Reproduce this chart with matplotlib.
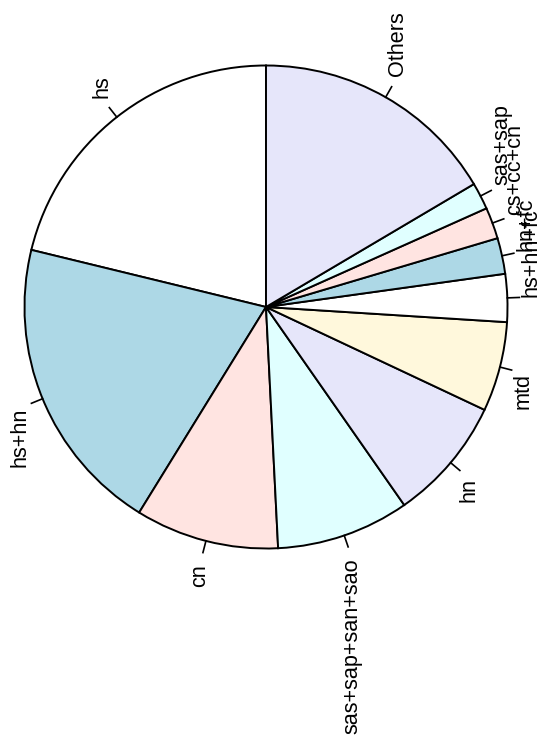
import numpy as np
import matplotlib
matplotlib.use("Agg")
import matplotlib.pyplot as plt

# slice labels and shares (percent), in drawing order
categorias = ["hs", "hs+hn", "cn", "sas+sap+san+sao", "hn", "mtd",
              "hs+hn+fc", "hn+fc", "cs+cc+cn", "sas+sap", "Others"]
valores = [21.2, 20.0, 9.6, 8.9, 8.3, 6.0, 3.2, 2.4, 2.1, 1.8, 16.5]

# cores padrao do pie() do R
cores_base = ["white", "lightblue", "mistyrose", "lightcyan", "lavender", "cornsilk"]
cores = [cores_base[i % len(cores_base)] for i in range(len(valores))]

W, H = 542, 745
fig = plt.figure(figsize=(W / 100, H / 100), dpi=100)
ax = fig.add_axes([0, 0, 1, 1])

centro = (266, H - 307)
raio = 241.5

fatias, _ = ax.pie(valores, colors=cores, startangle=90, counterclock=True,
                   center=centro, radius=raio, frame=True,
                   wedgeprops=dict(edgecolor="black", linewidth=1.4))
ax.set_xlim(0, W)
ax.set_ylim(0, H)
ax.set_aspect("equal")
ax.axis("off")

# rotulos girados 90 graus, com tracinho na borda (estilo R)
for fatia, nome in zip(fatias, categorias):
    meio = np.deg2rad((fatia.theta1 + fatia.theta2) / 2)
    c, s = np.cos(meio), np.sin(meio)
    ax.plot([centro[0] + raio * c, centro[0] + 1.05 * raio * c],
            [centro[1] + raio * s, centro[1] + 1.05 * raio * s],
            color="black", linewidth=1.2)
    ax.text(centro[0] + 1.1 * raio * c, centro[1] + 1.1 * raio * s, nome,
            rotation=90, rotation_mode="anchor",
            ha="left" if s > 0 else "right", va="center",
            fontsize=15.6, family="Liberation Sans")

fig.savefig("out.png", dpi=100)
